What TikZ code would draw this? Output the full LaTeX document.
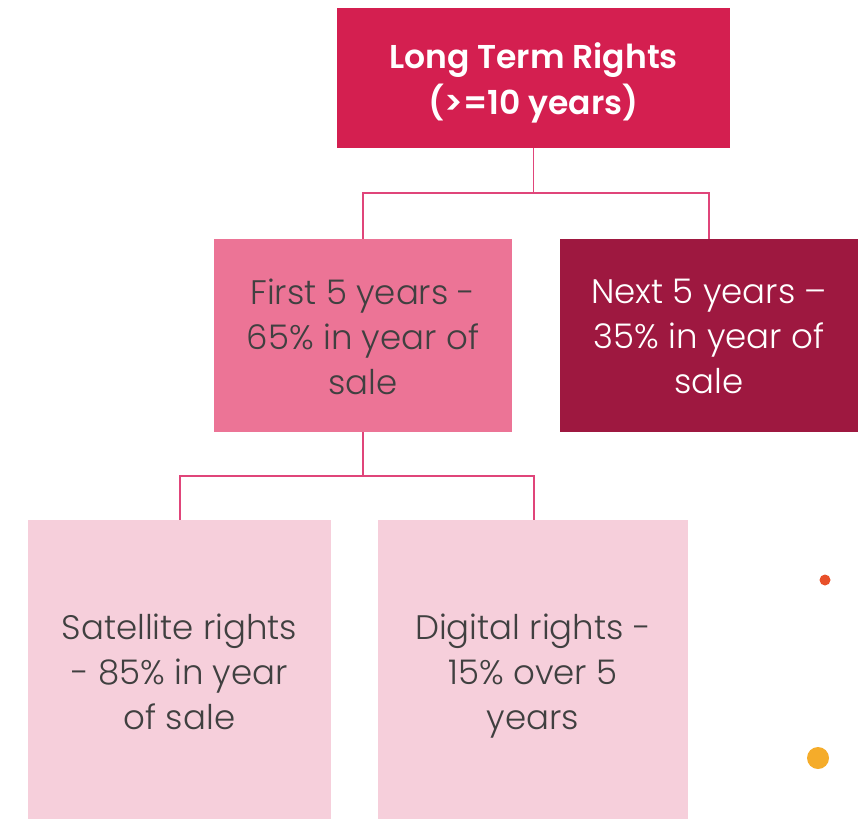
\documentclass[tikz,border=0pt]{standalone}
\usepackage{fontspec}
\setmainfont{Poppins}[UprightFont=* Light, BoldFont=* SemiBold]
\definecolor{topc}{HTML}{D41F50}
\definecolor{firstc}{HTML}{EC7496}
\definecolor{nextc}{HTML}{9E1840}
\definecolor{lowc}{HTML}{F6CFDB}
\definecolor{linec}{HTML}{E0457A}
\definecolor{dotred}{HTML}{E8502A}
\definecolor{dotorange}{HTML}{F5AC2A}
\definecolor{txt}{HTML}{404040}
\tikzset{
  box/.style={draw=none, inner sep=0pt, align=center, text=txt, font=\fontsize{34}{45}\selectfont},
  conn/.style={draw=linec, line width=1.8pt},
}
\begin{document}
\begin{tikzpicture}[x=1pt,y=-1pt]
\useasboundingbox (0,0) rectangle (864,819);
\fill[topc] (337,8) rectangle (730,148);
\node[box, text=white, font=\fontsize{33}{46}\selectfont\bfseries] (top) at (533.5,83) {Long Term Rights\\(>=10 years)\vphantom{g}};
\coordinate (topB) at (533.5,148);
\fill[firstc] (214,239) rectangle (512,432);
\node[box] (first) at (363,341) {First 5 years -\\65\% in year of\\sale\vphantom{g}};
\fill[nextc] (560,239) rectangle (858,432);
\node[box, text=white] (next) at (709,341) {Next 5 years –\\35\% in year of\\sale\vphantom{g}};
\fill[lowc] (28,520) rectangle (331,819);
\node[box] (sat) at (179.5,676) {Satellite rights\\- 85\% in year\\of sale\vphantom{g}};
\fill[lowc] (378,520) rectangle (688,819);
\node[box] (dig) at (533,676) {Digital rights -\\15\% over 5\\years};
\coordinate (firstT) at (363,239);
\coordinate (nextT) at (709,239);
\coordinate (firstB) at (363,432);
\coordinate (satT) at (180,520);
\coordinate (digT) at (534,520);
\draw[conn] (topB) -- (533.5,193) -| (firstT);
\draw[conn] (topB) -- (533.5,193) -| (nextT);
\draw[conn] (firstB) -- (363,476) -| (satT);
\draw[conn] (firstB) -- (363,476) -| (digT);
\fill[dotred] (825,580) circle (5.5);
\fill[dotorange] (818,758) circle (11);
\end{tikzpicture}
\end{document}
